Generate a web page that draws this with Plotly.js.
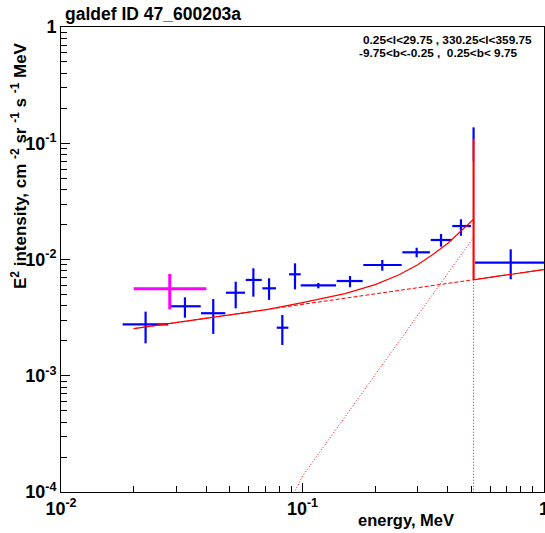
<!DOCTYPE html>
<html>
<head>
<meta charset="utf-8">
<script src="https://cdn.plot.ly/plotly-3.0.1.min.js"></script>
<style>html,body{margin:0;padding:0;background:#fff;}#chart{width:545px;height:533px;}</style>
</head>
<body>
<div id="chart"></div>
<script>
// ---- data points (blue): energy bin centre, bin low, bin high, value, error low, error high
const blueE    = [0.0224, 0.0326, 0.0427, 0.0529, 0.0626, 0.0727, 0.0825, 0.0931, 0.1163, 0.1573, 0.214, 0.297, 0.3746, 0.453, 0.511, 0.728];
const blueElo  = [0.0180, 0.0285, 0.0380, 0.0482, 0.0582, 0.0682, 0.0782, 0.0880, 0.0983, 0.1385, 0.1786, 0.259, 0.3396, 0.417, 0.509, 0.518];
const blueEhi  = [0.0278, 0.0379, 0.0479, 0.0578, 0.0678, 0.0777, 0.0874, 0.0983, 0.1377, 0.1775, 0.2575, 0.337, 0.4148, 0.4985, 0.513, 1.0];
const blueY    = [0.00277, 0.00396, 0.00345, 0.00518, 0.00667, 0.00565, 0.00259, 0.00746, 0.0060, 0.00653, 0.00897, 0.01153, 0.01472, 0.0194, 0.100, 0.00939];
const blueYlo  = [0.0019, 0.00316, 0.00229, 0.0038, 0.00479, 0.00449, 0.00184, 0.00554, 0.00565, 0.00577, 0.00801, 0.01045, 0.01289, 0.0160, 0.070, 0.00676];
const blueYhi  = [0.00356, 0.00473, 0.00457, 0.00644, 0.0084, 0.00689, 0.00333, 0.00927, 0.00628, 0.00721, 0.0099, 0.01263, 0.01657, 0.0222, 0.137, 0.01224];

// ---- magenta point
const magE   = [0.0282];
const magElo = [0.020];
const magEhi = [0.040];
const magY   = [0.00561];
const magYlo = [0.00373];
const magYhi = [0.0075];

// ---- model curves (red)
const totE = [0.02, 0.03, 0.05, 0.07, 0.1, 0.15, 0.2, 0.25, 0.3, 0.35, 0.4, 0.45, 0.5, 0.511, 0.511, 0.511, 1.0];
const totY = [0.00254, 0.00286, 0.00334, 0.00369, 0.00425, 0.00508, 0.00608, 0.00736, 0.00902, 0.0112, 0.0138, 0.0172, 0.0212, 0.0222, 0.108, 0.0067, 0.0082];
const spikeE = [0.511, 0.511];
const spikeY = [0.0067, 0.108];
const dashE = [0.02, 0.1, 0.511, 1.0];
const dashY = [0.00254, 0.00411, 0.0067, 0.0082];
const dotE = [0.09, 0.1, 0.15, 0.2, 0.25, 0.3, 0.35, 0.4, 0.45, 0.5, 0.511, 0.511];
const dotY = [0.000088, 0.000137, 0.000443, 0.00102, 0.00195, 0.0033, 0.0052, 0.0076, 0.0107, 0.01455, 0.0155, 0.000001];

// ---- axis ticks
const xTickVals = [0.01, 0.1, 1];
const xTickText = ['10<sup>-2</sup>', '10<sup>-1</sup>', '1'];
const yTickVals = [0.0001, 0.001, 0.01, 0.1, 1];
const yTickText = ['10<sup>-4</sup>', '10<sup>-3</sup>', '10<sup>-2</sup>', '10<sup>-1</sup>', '1'];

function minorTicks(decades) {
  const out = [];
  decades.forEach(d => { for (let m = 2; m <= 9; m++) out.push(+(m * d).toPrecision(3)); });
  return out;
}
const xMinor = minorTicks([0.01, 0.1]);
const yMinor = minorTicks([0.0001, 0.001, 0.01, 0.1]);

function errTrace(x, xlo, xhi, y, ylo, yhi, color, thick) {
  return {
    type: 'scatter', mode: 'markers', x: x, y: y,
    marker: {size: 1, color: color, opacity: 0},
    error_x: {type: 'data', symmetric: false,
      array: x.map((v, i) => xhi[i] - v), arrayminus: x.map((v, i) => v - xlo[i]),
      color: color, thickness: thick, width: 0},
    error_y: {type: 'data', symmetric: false,
      array: y.map((v, i) => yhi[i] - v), arrayminus: y.map((v, i) => v - ylo[i]),
      color: color, thickness: thick, width: 0},
    hoverinfo: 'skip', cliponaxis: true
  };
}

const FONT = 'Liberation Sans, Arial, Helvetica, sans-serif';

const traces = [
  errTrace(blueE, blueElo, blueEhi, blueY, blueYlo, blueYhi, '#0000ff', 2.2),
  errTrace(magE, magElo, magEhi, magY, magYlo, magYhi, '#ff00ff', 3),
  {type: 'scatter', mode: 'lines', x: dashE, y: dashY, line: {color: '#ff0000', width: 1, dash: '4px,2px'}, hoverinfo: 'skip'},
  {type: 'scatter', mode: 'lines', x: dotE, y: dotY, line: {color: '#ff0000', width: 1, dash: '1px,2px'}, hoverinfo: 'skip'},
  {type: 'scatter', mode: 'lines', x: spikeE, y: spikeY, line: {color: '#ff5a5a', width: 2.6}, hoverinfo: 'skip'},
  {type: 'scatter', mode: 'lines', x: totE, y: totY, line: {color: '#ff0000', width: 1.2}, hoverinfo: 'skip'}
];

const axisCommon = {
  type: 'log', showgrid: false, zeroline: false,
  showline: true, linecolor: '#000', linewidth: 1, mirror: true,
  ticks: 'inside', ticklen: 9, tickwidth: 1, tickcolor: '#000',
  tickmode: 'array', ticklabeloverflow: 'allow',
  tickfont: {family: FONT, size: 18, color: '#000', weight: 'bold'}
};

const layout = {
  width: 545, height: 533,
  margin: {l: 61, r: 1, t: 27, b: 41, pad: 0},
  paper_bgcolor: '#fff', plot_bgcolor: '#fff',
  showlegend: false,
  font: {family: FONT, color: '#000'},
  title: {text: '<b>galdef ID 47_600203a</b>', x: 65 / 545, xanchor: 'left', xref: 'container',
          y: 1 - 14 / 533, yanchor: 'middle', yref: 'container',
          font: {family: FONT, size: 17.5, color: '#000'}},
  xaxis: Object.assign({}, axisCommon, {
    range: [-2, 0], tickvals: xTickVals, ticktext: xTickText.map(t => '<b>' + t + '</b>'),
    minor: {tickmode: 'array', tickvals: xMinor, ticks: 'inside', ticklen: 6, tickcolor: '#000', tickwidth: 1, showgrid: false}
  }),
  yaxis: Object.assign({}, axisCommon, {
    range: [-4, 0], tickvals: yTickVals, ticktext: yTickText.map(t => '<b>' + t + '</b>'),
    minor: {tickmode: 'array', tickvals: yMinor, ticks: 'inside', ticklen: 6, tickcolor: '#000', tickwidth: 1, showgrid: false}
  }),
  annotations: [
    {xref: 'paper', yref: 'paper', x: (456 - 61) / 483, y: (492 - 520) / 465, xanchor: 'right', yanchor: 'middle',
     text: '<b>energy, MeV</b>', showarrow: false, font: {family: FONT, size: 16.5, color: '#000'}},
    {xref: 'paper', yref: 'paper', x: (19 - 61) / 483, y: (492 - 166) / 465, xanchor: 'center', yanchor: 'middle',
     textangle: -90, showarrow: false, font: {family: FONT, size: 17, color: '#000'},
     text: '<b>E<sup>2</sup> intensity, cm <sup>-2</sup> sr <sup>-1</sup> s <sup>-1</sup> MeV</b>'},
    {xref: 'paper', yref: 'paper', x: (361 - 61) / 483, y: (492 - 40) / 465, xanchor: 'left', yanchor: 'middle',
     text: '<b>0.25&lt;l&lt;29.75 , 330.25&lt;l&lt;359.75</b>', showarrow: false, font: {family: FONT, size: 11.8, color: '#000'}},
    {xref: 'paper', yref: 'paper', x: (357 - 61) / 483, y: (492 - 53) / 465, xanchor: 'left', yanchor: 'middle',
     text: '<b>-9.75&lt;b&lt;-0.25 ,  0.25&lt;b&lt; 9.75</b>', showarrow: false, font: {family: FONT, size: 11.8, color: '#000'}}
  ]
};

Plotly.newPlot('chart', traces, layout, {staticPlot: true, displayModeBar: false});
</script>
</body>
</html>
